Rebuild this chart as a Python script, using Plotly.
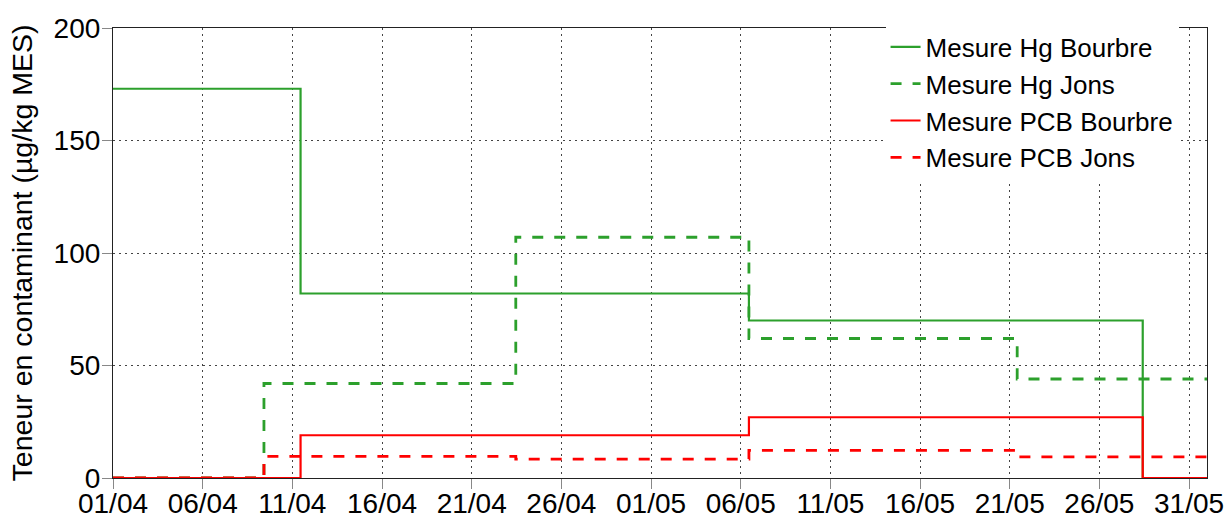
import plotly.graph_objects as go

# Bourbre : dates de changement de valeur (paliers)
dates_bourbre = ["2014-04-01 00:00", "2014-04-11 11:00", "2014-05-06 11:00",
                 "2014-05-28 10:00", "2014-06-01 00:00"]
hg_bourbre = [173, 82, 70, 0, 0]
pcb_bourbre = [0, 19, 27, 0, 0]

# Jons
dates_jons = ["2014-04-01 00:00", "2014-04-09 10:00", "2014-04-23 11:00",
              "2014-05-06 11:00", "2014-05-21 10:00", "2014-06-01 00:00"]
hg_jons = [0, 42, 107, 62, 44, 44]
pcb_jons = [0, 9.6, 8.4, 12.3, 9.4, 9.4]

vert = "#2ca02c"
rouge = "#ff0000"
police = "Arial, Liberation Sans, sans-serif"

fig = go.Figure()

fig.add_trace(go.Scatter(
    x=dates_bourbre, y=hg_bourbre, mode="lines", line_shape="hv",
    name="Mesure Hg Bourbre",
    line=dict(color=vert, width=2.2)
))
fig.add_trace(go.Scatter(
    x=dates_jons, y=hg_jons, mode="lines", line_shape="hv",
    name="Mesure Hg Jons",
    line=dict(color=vert, width=2.8, dash="11px,11px")
))
fig.add_trace(go.Scatter(
    x=dates_bourbre, y=pcb_bourbre, mode="lines", line_shape="hv",
    name="Mesure PCB Bourbre",
    line=dict(color=rouge, width=2.2)
))
fig.add_trace(go.Scatter(
    x=dates_jons, y=pcb_jons, mode="lines", line_shape="hv",
    name="Mesure PCB Jons",
    line=dict(color=rouge, width=2.8, dash="11px,11px")
))

axe = dict(
    showline=True, linecolor="#222", linewidth=1.2, mirror=True,
    ticks="outside", ticklen=10, tickcolor="#888", tickwidth=1.2,
    showgrid=True, gridcolor="#444", gridwidth=1, griddash="2px,4px",
    zeroline=False, automargin=False,
    tickfont=dict(size=28, color="black", family=police),
)

fig.update_layout(
    width=1227, height=519,
    margin=dict(l=113, r=20, t=28, b=41),
    paper_bgcolor="white", plot_bgcolor="white",
    font=dict(family=police, size=26, color="black"),
    xaxis=dict(
        axe, type="date", range=["2014-04-01", "2014-06-01"],
        tick0="2014-04-01", dtick=5 * 86400000, tickformat="%d/%m",
        ticklabelstandoff=-10,
    ),
    yaxis=dict(
        axe, range=[0, 200], dtick=50, ticklabelstandoff=-4,
        title=dict(text="Teneur en contaminant (µg/kg MES)", standoff=12,
                   font=dict(size=28.5, family=police)),
    ),
    legend=dict(
        x=0.974, y=1.01, xanchor="right", yanchor="top",
        bgcolor="white", borderwidth=0,
        font=dict(size=26, family=police),
        tracegroupgap=0,
    ),
    showlegend=True,
)

# pas de marge autour de la page
fig.write_html("out.html", config={"displayModeBar": False},
               post_script="document.body.style.margin='0';")
